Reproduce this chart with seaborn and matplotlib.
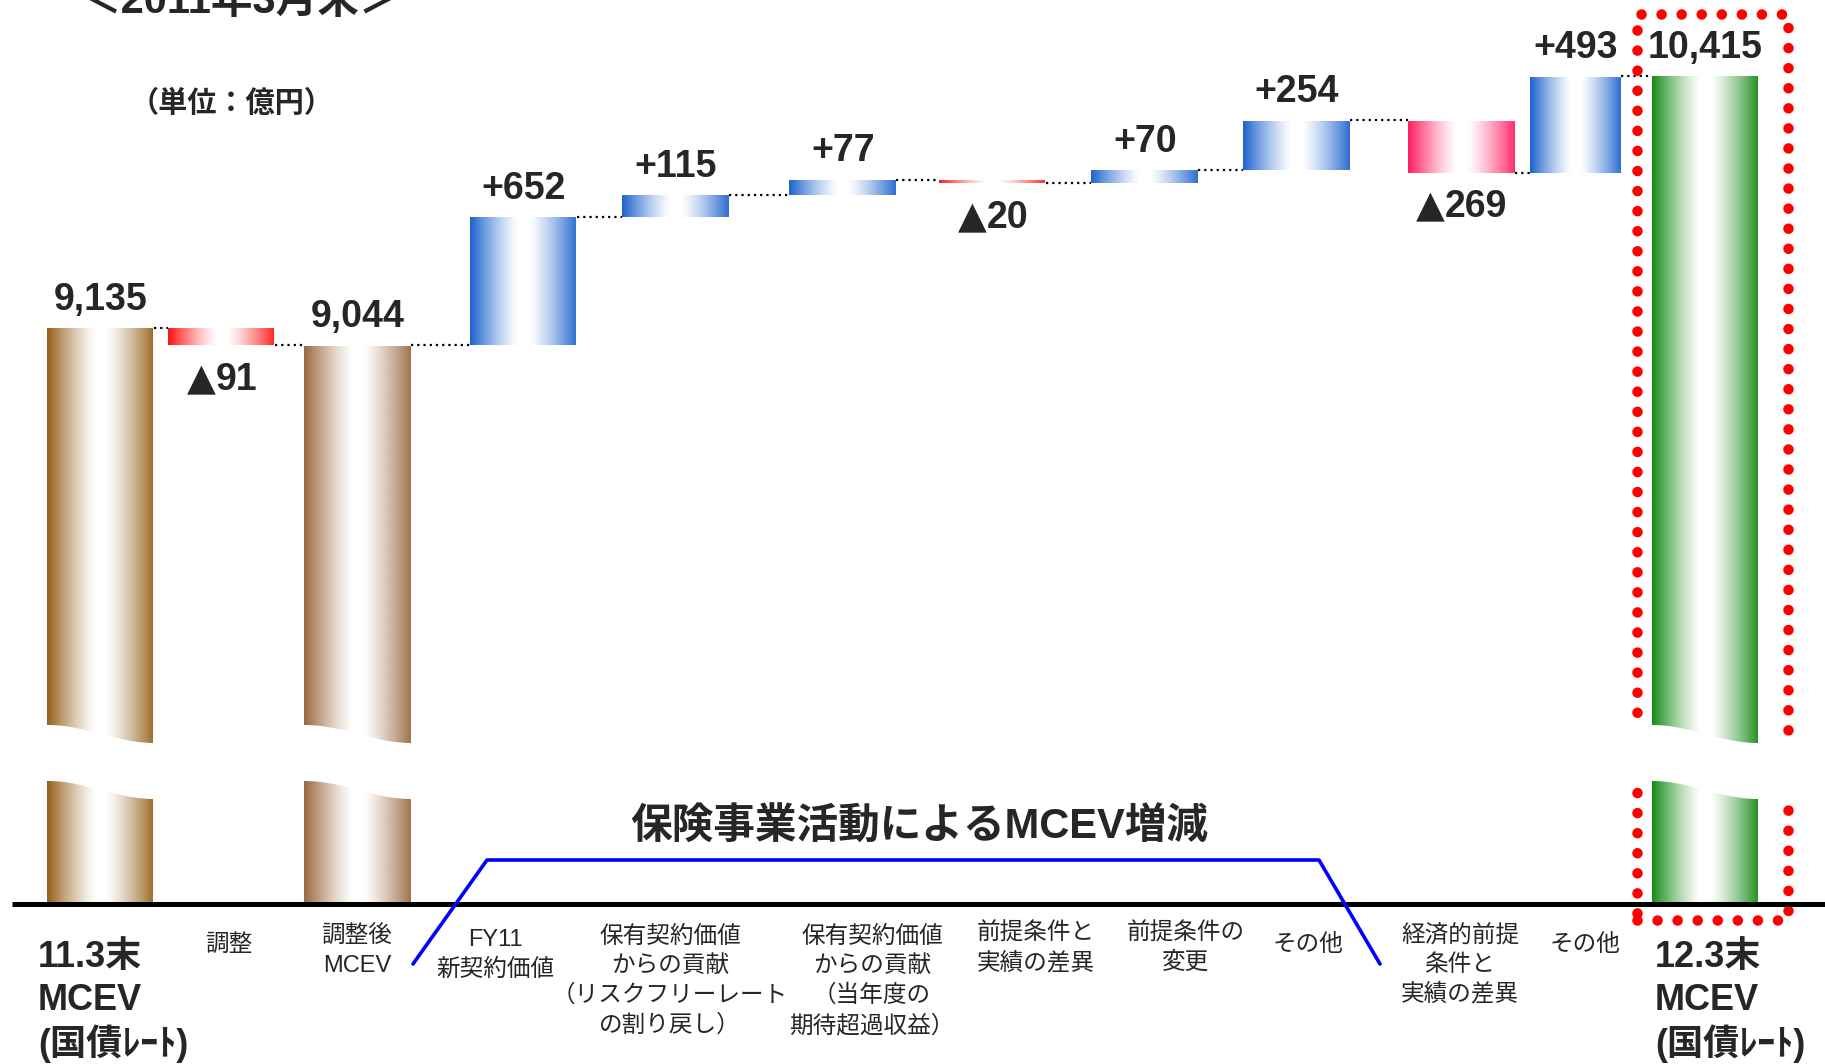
import numpy as np
import pandas as pd
import matplotlib
matplotlib.use("Agg")
import matplotlib.pyplot as plt
import seaborn as sns
from matplotlib.patches import Rectangle, Polygon
from matplotlib.transforms import blended_transform_factory
from matplotlib.colors import to_rgb

# ---------------- data ----------------
CATEGORIES = ["11.3末\nMCEV\n(国債ﾚｰﾄ)", "調整", "調整後\nMCEV", "FY11\n新契約価値",
              "保有契約価値\nからの貢献\n（リスクフリーレート\nの割り戻し）",
              "保有契約価値\nからの貢献\n（当年度の\n期待超過収益）",
              "前提条件と\n実績の差異", "前提条件の\n変更", "その他",
              "経済的前提\n条件と\n実績の差異", "その他", "12.3末\nMCEV\n(国債ﾚｰﾄ)"]
VALUES = [9135, -91, 9044, 652, 115, 77, -20, 70, 254, -269, 493, 10415]
IS_TOTAL = [True, False, True, False, False, False, False, False, False, False, False, True]
TITLE = "＜2011年3月末＞"
UNIT = "（単位：億円）"
GROUP_TITLE = "保険事業活動によるMCEV増減"
NEG_MARK = "▲"

# ---------------- layout / style ----------------
W, H = 1825, 1064
BASE_PX = 904                      # baseline, pixels from top
POSITIONS = [101, 222, 358, 524, 676, 843, 993, 1145, 1297, 1462, 1576, 1705]
WIDTHS = [107, 107, 107, 107, 107, 107, 107, 107, 107, 107, 91, 106]
BAR_COLORS = ["#96611C", "#FF1414", "#9A6A42", "#1F65CF", "#1F65CF", "#1F65CF",
              "#FF1E1E", "#1F65CF", "#1F65CF", "#FF2062", "#1F65CF", "#1A8C1A"]
BROKEN = [0, 2, 11]
LABEL_X = [None, 229, 357, 495, 670, 872, 1036, 1186, 1308, 1460, 1585, None]
LABEL_TOP = [None, 934, 926, 929, 926, 926, 922, 922, 934, 924, 934, None]
BIG_LEFT = {0: 38, 11: 1655}
BIG_LINE_Y = [958, 1000, 1044]
NUM_SIZE = 27

SCALE = 0.1966      # px per unit (upper part)
OFFSET = 6203
KNEE = 7000
U_KNEE = (KNEE - OFFSET) * SCALE
LOW = U_KNEE / KNEE


def fwd(v):
    v = np.asarray(v, dtype=float)
    return np.where(v >= KNEE, (v - OFFSET) * SCALE, v * LOW)


def inv(u):
    u = np.asarray(u, dtype=float)
    return np.where(u >= U_KNEE, u / SCALE + OFFSET, u / LOW)


def gradient(color, n=256):
    t = np.linspace(0, 1, n)
    w = np.where(t < 0.45, ((0.45 - t) / 0.45) ** 1.25,
                 np.where(t > 0.55, ((t - 0.55) / 0.45) ** 1.25 * 0.95, 0.0))
    c = np.array(to_rgb(color))
    rgb = (1 - w)[:, None] * np.ones(3) + w[:, None] * c
    return rgb[None, :, :]


sns.set_theme(style="white")
plt.rcParams["font.family"] = ["Liberation Sans", "Noto Sans CJK JP", "DejaVu Sans"]

fig = plt.figure(figsize=(W / 100, H / 100), dpi=100)
ax = fig.add_axes([0, 0, 1, 1])

# waterfall geometry from the values
bottoms, tops, levels = [], [], []
run = 0
for v, tot in zip(VALUES, IS_TOTAL):
    if tot:
        b, t = 0, v
        run = v
    else:
        b, t = sorted([run, run + v])
        run += v
    bottoms.append(b)
    tops.append(t)
    levels.append(run)

df = pd.DataFrame({"pos": POSITIONS, "top": tops, "cat": CATEGORIES})
sns.barplot(data=df, x="pos", y="top", native_scale=True, errorbar=None, ax=ax)
bars = list(ax.patches)
for p, pos, w, b, t in zip(bars, POSITIONS, WIDTHS, bottoms, tops):
    p.set_x(pos - w / 2)
    p.set_width(w)
    p.set_y(b)
    p.set_height(t - b)
    p.set_facecolor("none")
    p.set_edgecolor("none")

ax.set_yscale("function", functions=(fwd, inv))

for p, col in zip(bars, BAR_COLORS):
    x0, x1 = p.get_x(), p.get_x() + p.get_width()
    b, t = p.get_y(), p.get_y() + p.get_height()
    ax.imshow(gradient(col), extent=(x0, x1, b, t), aspect="auto",
              interpolation="bilinear", zorder=2)

# connectors
for i in range(len(bars) - 1):
    xa = bars[i].get_x() + bars[i].get_width()
    xb = bars[i + 1].get_x()
    ax.plot([xa, xb], [levels[i], levels[i]], color="black", lw=1.6,
            ls=(0, (1, 1.8)), zorder=3)

# baseline
ax.plot([12, W], [0, 0], color="black", lw=3.6, solid_capstyle="butt", zorder=4)

blend = blended_transform_factory(ax.transData, ax.transAxes)


def fy(px):
    return 1 - px / H


# red dotted frame around the last total
frame = Rectangle((1637, fy(920)), 1788 - 1637, (920 - 14) / H, transform=blend,
                  fill=False, edgecolor="#FF0000", lw=7.6, linestyle=(0, (0.001, 1.9)),
                  capstyle="round", zorder=3)
ax.add_patch(frame)

# axis-break bands
for i in BROKEN:
    p = bars[i]
    x0, x1 = p.get_x(), p.get_x() + p.get_width()
    ext_l, ext_r = (x0 - 2, x1 + 2) if i != 11 else (1620, 1805)
    xs = np.linspace(ext_l, ext_r, 80)
    tt = np.clip((xs - x0) / (x1 - x0), 0, 1)
    s = (1 - np.cos(np.pi * tt)) / 2
    top_px = 725 + 18 * s
    bot_px = 781 + 18 * s
    poly = np.concatenate([np.column_stack([xs, fy(top_px)]),
                           np.column_stack([xs[::-1], fy(bot_px[::-1])])])
    ax.add_patch(Polygon(poly, closed=True, transform=blend, facecolor="white",
                         edgecolor="none", zorder=5))

# value labels
em_pt = NUM_SIZE
for i, (v, tot) in enumerate(zip(VALUES, IS_TOTAL)):
    pos = POSITIONS[i]
    if tot or v > 0:
        txt = f"{v:,}" if tot else f"+{v}"
        ax.annotate(txt, (pos, tops[i]), xytext=(0, 13), textcoords="offset points",
                    ha="center", va="baseline", fontsize=NUM_SIZE, fontweight="bold",
                    zorder=6, family=["Liberation Sans"])
    else:
        num = f"{-v}"
        tri_w = 0.77 * em_pt
        num_w = 0.556 * em_pt * len(num)
        start = -(tri_w + num_w) / 2
        ax.annotate(NEG_MARK, (pos, bottoms[i]), xytext=(start, -32),
                    textcoords="offset points", ha="left", va="baseline",
                    fontsize=NUM_SIZE, fontweight="bold", zorder=6,
                    family=["DejaVu Sans"])
        ax.annotate(num, (pos, bottoms[i]), xytext=(start + tri_w, -32),
                    textcoords="offset points", ha="left", va="baseline",
                    fontsize=NUM_SIZE, fontweight="bold", zorder=6,
                    family=["Liberation Sans"])

# group bracket
bx = [413, 487, 1319, 1380]
by = [fy(964), fy(860), fy(860), fy(964)]
ax.plot(bx, by, transform=blend, color="#0000FF", lw=2.6, zorder=4)
fig.text(919 / W, fy(828), GROUP_TITLE, ha="center", va="center", fontsize=30,
         fontweight="bold")

# category labels
for i, lab in enumerate(CATEGORIES):
    if i in BIG_LEFT:
        for line, ly in zip(lab.split("\n"), BIG_LINE_Y):
            fig.text(BIG_LEFT[i] / W, fy(ly), line, ha="left", va="center",
                     fontsize=26, fontweight="bold")
    else:
        fig.text(LABEL_X[i] / W, fy(LABEL_TOP[i]), lab, ha="center", va="top",
                 fontsize=17, multialignment="center", linespacing=1.42)

fig.text(80 / W, fy(13), TITLE, ha="left", va="baseline", fontsize=30,
         fontweight="bold")
fig.text(232 / W, fy(104), UNIT, ha="center", va="center", fontsize=21,
         fontweight="bold")

ax.set_xlim(0, W)
ax.set_ylim(float(inv(-(H - BASE_PX))), float(inv(BASE_PX)))
ax.set_axis_off()

fig.savefig("out.png", dpi=100, facecolor="white")
